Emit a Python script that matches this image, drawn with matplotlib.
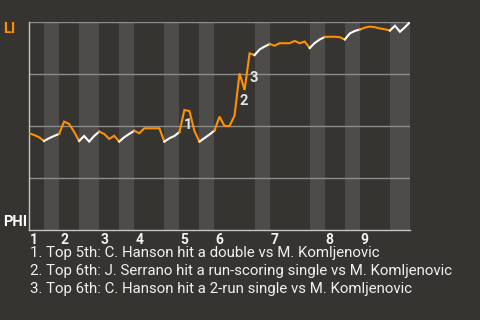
import numpy as np
import matplotlib.pyplot as plt

# plate appearances in each half inning (top 1st, bottom 1st, top 2nd, ...)
half_inning_pas = [3, 3, 4, 4, 4, 3, 6, 3, 4, 3, 8, 3, 8, 3, 4, 3, 6, 4]
inning_labels = ["1", "2", "3", "4", "5", "6", "7", "8", "9"]

# LI win probability after each plate appearance (first value = game start)
li_win_prob = [
    0.465,
    0.457, 0.446, 0.428,
    0.441, 0.452, 0.462,
    0.521, 0.510, 0.472, 0.428,
    0.452, 0.425, 0.452, 0.473,
    0.462, 0.438, 0.453, 0.425,
    0.446, 0.462, 0.477,
    0.465, 0.489, 0.489, 0.489, 0.489, 0.425,
    0.441, 0.452, 0.471,
    0.577, 0.572, 0.476, 0.425,
    0.442, 0.459, 0.478,
    0.545, 0.500, 0.500, 0.550, 0.753, 0.673, 0.849, 0.841,
    0.868, 0.882, 0.894,
    0.886, 0.898, 0.898, 0.898, 0.909, 0.898, 0.906, 0.875,
    0.899, 0.916, 0.928,
    0.929, 0.929, 0.927, 0.916,
    0.945, 0.957, 0.964,
    0.973, 0.978, 0.975, 0.969, 0.965, 0.959,
    0.982, 0.953, 0.975, 1.000,
]

key_events = [31, 42, 44]
key_event_text = [
    "Top 5th: C. Hanson hit a double vs M. Komljenovic",
    "Top 6th: J. Serrano hit a run-scoring single vs M. Komljenovic",
    "Top 6th: C. Hanson hit a 2-run single vs M. Komljenovic",
]
label_offsets = [(4, -15), (4, -28), (4, -25)]  # pixels

BG = "#363431"
BAND = "#4d4c4a"
ORANGE = "#ff9000"
FONT = ["Roboto", "DejaVu Sans"]

bounds = np.concatenate([[0], np.cumsum(half_inning_pas)])
x = np.arange(len(li_win_prob))
y = np.array(li_win_prob)

fig = plt.figure(figsize=(4.8, 3.2), dpi=100, facecolor=BG)
ax = fig.add_axes([29 / 480, 90 / 320, 381 / 480, 208 / 320], facecolor=BG)
ax.set_xlim(0, bounds[-1])
ax.set_ylim(0, 1)

# bottom halves get a lighter band
for i in range(1, len(half_inning_pas), 2):
    ax.axvspan(bounds[i], bounds[i + 1], color=BAND, lw=0, zorder=0)

for gy in [0.25, 0.5, 0.75, 1.0]:
    ax.axhline(gy, color="#8c8c8c", lw=1, zorder=1)

for i in range(len(half_inning_pas)):
    s, e = bounds[i], bounds[i + 1]
    color = ORANGE if i % 2 == 0 else "white"
    ax.plot(x[s:e + 1], y[s:e + 1], color=color, lw=1.5, zorder=3,
            solid_joinstyle="miter")

for n, (k, off) in enumerate(zip(key_events, label_offsets), start=1):
    ax.annotate(str(n), (x[k], y[k]), xytext=off, textcoords="offset pixels",
                ha="center", va="center", color="#e6e6e6", fontsize=10.5,
                fontweight="bold", family=FONT, zorder=4)

for j, lab in enumerate(inning_labels):
    ax.annotate(lab, (bounds[2 * j], 0), xytext=(1, -3), textcoords="offset pixels",
                ha="left", va="top", color="#f2f2f2", fontsize=10,
                fontweight="bold", family=FONT, annotation_clip=False)

ax.set_xticks([])
ax.set_yticks([])
for side in ["top", "right"]:
    ax.spines[side].set_visible(False)
for side in ["left", "bottom"]:
    ax.spines[side].set_color("#c4c4c4")
    ax.spines[side].set_linewidth(1)

fig.text(3 / 480, 1 - 22 / 320, "LI", color=ORANGE, fontsize=10.5,
         fontweight="bold", family=FONT, ha="left", va="top")
fig.text(3 / 480, 1 - 226 / 320, "PHI", color="white", fontsize=10.5,
         fontweight="bold", family=FONT, ha="left", va="baseline")

for n, txt in enumerate(key_event_text, start=1):
    fig.text(30 / 480, 1 - (257 + 18 * (n - 1)) / 320, f"{n}. {txt}",
             color="#f0f0f0", fontsize=10.8, family=FONT, ha="left", va="baseline")

fig.savefig("out.png", dpi=100, facecolor=BG)
